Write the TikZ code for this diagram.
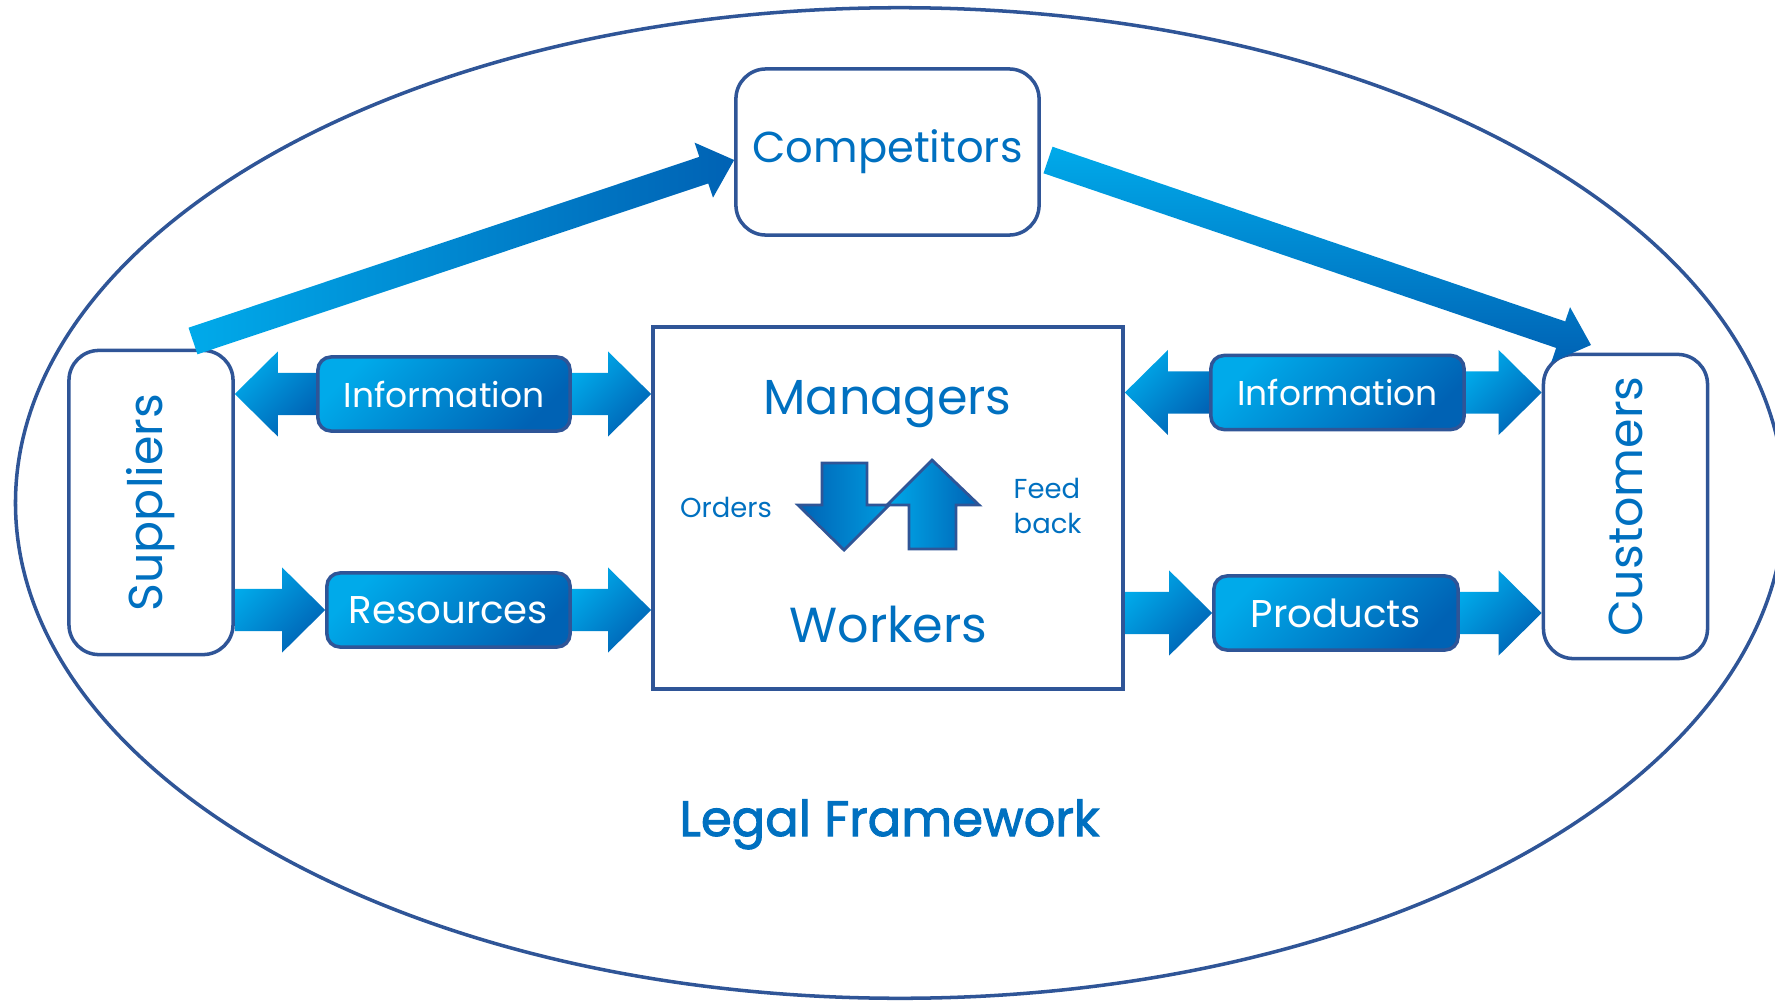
\documentclass[tikz,border=0pt]{standalone}
\usepackage{fontspec}
\setmainfont{Poppins}
\newfontfamily\legalfont[FakeBold=2]{Poppins}
\usetikzlibrary{calc,backgrounds,positioning}
\definecolor{edgeblue}{RGB}{47,85,151}
\definecolor{textblue}{RGB}{0,112,192}
\definecolor{lightfill}{RGB}{0,170,234}
\definecolor{darkfill}{RGB}{0,98,180}
\tikzset{
	box/.style={draw=edgeblue,line width=1pt,rounded corners=0.3cm,text=textblue},
	sidebox/.style={box,minimum width=1.64cm,minimum height=3.04cm,inner sep=0pt,font=\fontsize{13.5}{16}\selectfont},
	mainbox/.style={draw=edgeblue,line width=1pt,minimum width=4.7cm,minimum height=3.62cm},
	pill/.style={draw=edgeblue,line width=1pt,rounded corners=0.13cm,top color=lightfill,bottom color=darkfill,shading angle=45,text=white,minimum height=0.74cm,inner sep=0pt,font=\fontsize{11}{13}\selectfont},
	flow/.style={top color=lightfill,bottom color=darkfill,shading angle=45},
	bigtext/.style={text=textblue,font=\fontsize{14}{17}\selectfont},
	smalltext/.style={text=textblue,inner sep=0pt,font=\fontsize{7.8}{10.2}\selectfont,align=left}
}
% block arrow: [style]{tail}{tip}{half shaft}{half head}{head length}
\newcommand{\fatarrow}[6][flow]{%
	\shade[#1] ($(#2)!#4!90:(#3)$) -- ($(#3)!#6!(#2)!#4!90:(#3)$) -- ($(#3)!#6!(#2)!#5!90:(#3)$)
		-- (#3) -- ($(#3)!#6!(#2)!#5!-90:(#3)$) -- ($(#3)!#6!(#2)!#4!-90:(#3)$) -- ($(#2)!#4!-90:(#3)$) -- cycle;}

\begin{document}
\begin{tikzpicture}[x=0.01cm,y=-0.01cm]
	\useasboundingbox (0,0) rectangle (1775,1003);
	\draw[edgeblue,line width=1pt] (900,503) ellipse [x radius=8.84cm,y radius=4.95cm];

	\node[box,minimum width=3.03cm,minimum height=1.66cm,inner sep=0pt,font=\fontsize{12.3}{15}\selectfont] (comp) at (887.5,152) {Competitors};
	\node[mainbox] (mw) at (888,508) {};
	\node[sidebox] (sup) at (151,502.5) {\rotatebox{90}{Suppliers}};
	\node[sidebox] (cus) at (1625.5,506.5) {\rotatebox{90}{Customers}};

	\node[pill,minimum width=2.52cm,font=\fontsize{9.8}{12}\selectfont] (infoL) at (444,394) {Information};
	\node[pill,minimum width=2.43cm] (res) at (448.5,610) {Resources};
	\node[pill,minimum width=2.53cm,font=\fontsize{9.8}{12}\selectfont] (infoR) at (1337.5,392.5) {Information};
	\node[pill,minimum width=2.44cm] (prod) at (1336,613) {Products};

	\begin{scope}[on background layer]
		\fatarrow{infoL.west}{sup.east|-infoL}{0.21cm}{0.425cm}{0.43cm}
		\fatarrow{infoL.east}{mw.west|-infoL}{0.21cm}{0.425cm}{0.43cm}
		\fatarrow{sup.east|-res}{res.west}{0.21cm}{0.425cm}{0.43cm}
		\fatarrow{res.east}{mw.west|-res}{0.21cm}{0.425cm}{0.43cm}
		\fatarrow{infoR.west}{mw.east|-infoR}{0.21cm}{0.425cm}{0.43cm}
		\fatarrow{infoR.east}{cus.west|-infoR}{0.21cm}{0.425cm}{0.43cm}
		\fatarrow{mw.east|-prod}{prod.west}{0.21cm}{0.425cm}{0.43cm}
		\fatarrow{prod.east}{cus.west|-prod}{0.21cm}{0.425cm}{0.43cm}
	\end{scope}

	% supply chain over the top
	\coordinate (st) at (193,341);
	\coordinate (ct) at (1048,160);
	\fatarrow[left color=lightfill,right color=darkfill]{st}{comp.west|-0,160}{0.14cm}{0.29cm}{0.32cm}
	\fatarrow[top color=lightfill,bottom color=darkfill]{ct}{1591,345}{0.14cm}{0.29cm}{0.32cm}

	\node[bigtext,anchor=base] (mgr) at (887.5,414) {Managers};
	\node[bigtext,anchor=base] (wrk) at (888.5,642) {Workers};
	\node[smalltext,anchor=base] (ord) at (726,517) {Orders};
	\node[smalltext,anchor=west] (fb) at (1013,506) {Feed\\back};
	\shade[draw=edgeblue,line width=0.8pt,left color=darkfill,right color=lightfill!80!darkfill]
		(822,463) -- (867,463) -- (867,505) -- (889,505) -- (844,550) -- (798,505) -- (822,505) -- cycle;
	\shade[draw=edgeblue,line width=0.8pt,left color=lightfill,right color=darkfill]
		(932,460) -- (979,505) -- (956,505) -- (956,549) -- (909,549) -- (909,505) -- (887,505) -- cycle;

	\node[text=textblue,font=\legalfont\fontsize{14.1}{17}\selectfont,anchor=base] (legal) at (889.5,836) {Legal Framework};
\end{tikzpicture}
\end{document}
